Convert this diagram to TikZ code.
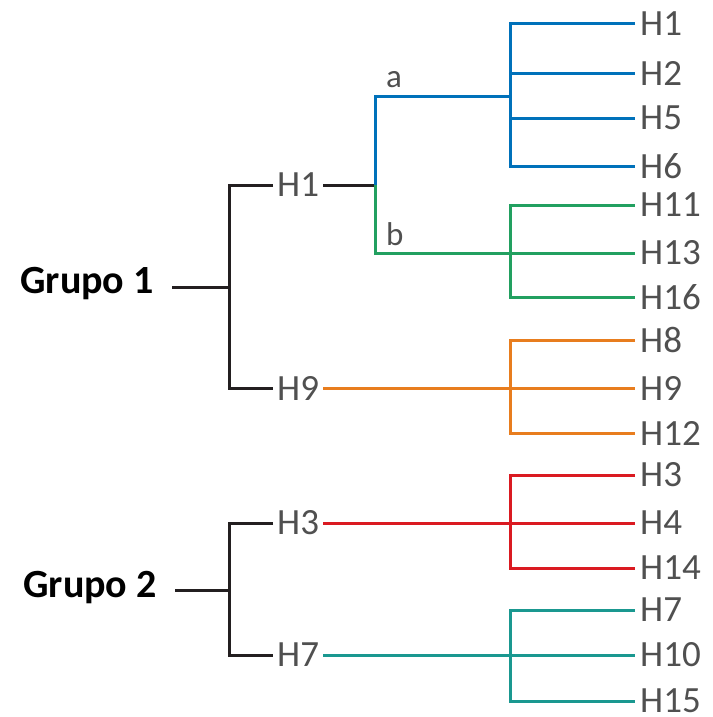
\documentclass[tikz,border=0pt]{standalone}
\usepackage{fontspec}
\setmainfont{Carlito}
\definecolor{trunk}{HTML}{231F20}
\definecolor{cblue}{HTML}{0071BA}
\definecolor{cgreen}{HTML}{22A060}
\definecolor{corange}{HTML}{E87D1E}
\definecolor{cred}{HTML}{DA1A21}
\definecolor{cteal}{HTML}{1A9890}
\definecolor{labelgray}{HTML}{505050}
\begin{document}
\begin{tikzpicture}[x=1pt,y=-1pt,
  branch/.style={line width=3pt},
  lbl/.style={font=\fontsize{37}{40}\selectfont, text=labelgray, inner xsep=4pt, inner ysep=0pt, anchor=west},
  leaf/.style={lbl, inner xsep=5pt},
  grp/.style={font=\fontsize{40}{44}\selectfont\bfseries, text=black, inner sep=0pt, anchor=base east},
  sub/.style={font=\fontsize{33}{36}\selectfont, text=labelgray, inner sep=0pt, anchor=base west}]
\useasboundingbox (0,0) rectangle (712,717);

% group labels and inner nodes
\node[grp] (g1) at (154,293) {Grupo 1};
\node[grp] (g2) at (157,597) {Grupo 2};
\node[lbl] (h1) at (273,185) {H1};
\node[lbl] (h9) at (273,388) {H9};
\node[lbl] (h3) at (273,523) {H3};
\node[lbl] (h7) at (273,655) {H7};
\node[sub] (la) at (386,87) {a};
\node[sub] (lb) at (386,245) {b};

% leaves
\foreach \n/\y in {H1/24,H2/73,H5/118,H6/166,H11/205,H13/253,H16/297,
                   H8/340,H9/388,H12/433,H3/475,H4/523,H14/568,
                   H7/610,H10/655,H15/701}
  \node[leaf] (l\n\y) at (635,\y) {\n};

% junction points
\coordinate (j1) at (229,287);
\coordinate (j2) at (229,590);
\coordinate (ja) at (375,185);
\coordinate (ka) at (510,96);
\coordinate (kb) at (510,253);
\coordinate (k9) at (510,388);
\coordinate (k3) at (510,523);
\coordinate (k7) at (510,655);

% black trunks
\draw[branch,trunk] (172,287) -- (j1);
\draw[branch,trunk] (h1.west) -| (j1) |- (h9.west);
\draw[branch,trunk] (h1.east) -- (ja);
\draw[branch,trunk] (175,590) -- (j2);
\draw[branch,trunk] (h3.west) -| (j2) |- (h7.west);

% subgroup a (blue)
\draw[branch,cblue] (ja) |- (ka);
\draw[branch,cblue] (lH124.west) -| (ka) |- (lH6166.west);
\draw[branch,cblue] (ka |- lH273.west) -- (lH273.west);
\draw[branch,cblue] (ka |- lH5118.west) -- (lH5118.west);

% subgroup b (green)
\draw[branch,cgreen] (ja) |- (kb);
\draw[branch,cgreen] (lH11205.west) -| (kb) |- (lH16297.west);
\draw[branch,cgreen] (kb) -- (lH13253.west);

% H9 (orange)
\draw[branch,corange] (h9.east) -- (k9) -- (lH9388.west);
\draw[branch,corange] (lH8340.west) -| (k9) |- (lH12433.west);

% H3 (red)
\draw[branch,cred] (h3.east) -- (k3) -- (lH4523.west);
\draw[branch,cred] (lH3475.west) -| (k3) |- (lH14568.west);

% H7 (teal)
\draw[branch,cteal] (h7.east) -- (k7) -- (lH10655.west);
\draw[branch,cteal] (lH7610.west) -| (k7) |- (lH15701.west);
\end{tikzpicture}
\end{document}
